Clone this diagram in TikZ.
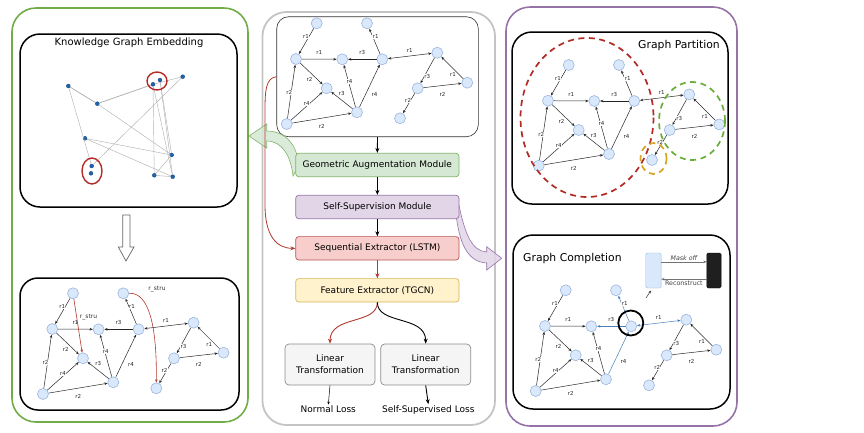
\documentclass[tikz,border=0pt]{standalone}
\usepackage{fontspec}
\setmainfont{DejaVu Sans}
\usetikzlibrary{arrows.meta}
\definecolor{kgfill}{HTML}{DAE8FC}
\definecolor{kgline}{HTML}{9AB5DE}
\definecolor{hlblue}{HTML}{4A7EBB}
\definecolor{pgreen}{HTML}{70AD47}
\definecolor{ppurple}{HTML}{9673A6}
\definecolor{pgray}{HTML}{C4C4C4}
\definecolor{gfill}{HTML}{D5E8D4}
\definecolor{gline}{HTML}{82B366}
\definecolor{ufill}{HTML}{E1D5E7}
\definecolor{uline}{HTML}{9673A6}
\definecolor{rfill}{HTML}{F8CECC}
\definecolor{rline}{HTML}{B85450}
\definecolor{yfill}{HTML}{FFF2CC}
\definecolor{yline}{HTML}{D6B656}
\definecolor{lfill}{HTML}{F5F5F5}
\definecolor{lline}{HTML}{8C8C8C}
\definecolor{dred}{HTML}{B03A2E}
\definecolor{cred}{HTML}{B22B25}
\definecolor{cgreen}{HTML}{6AAE3A}
\definecolor{corange}{HTML}{D9A421}
\definecolor{embblue}{HTML}{1F64B0}
\newcommand\kggraph[4]{%
\begin{scope}[shift={(#2,#3)},#4]
\node[kgn] (#1n1) at (30,-100.7) {};
\node[kgn] (#1n2) at (80.3,-100.7) {};
\node[kgn] (#1n3) at (9.3,-65) {};
\node[kgn] (#1n4) at (55.6,-64.7) {};
\node[kgn] (#1n5) at (95.6,-64.7) {};
\node[kgn] (#1n6) at (150.6,-71.3) {};
\node[kgn] (#1n7) at (40,-35.7) {};
\node[kgn] (#1n8) at (131,-35.7) {};
\node[kgn] (#1n9) at (180.6,-41.3) {};
\node[kgn] (#1n10) at (0,0) {};
\node[kgn] (#1n11) at (70.3,-11.7) {};
\node[kgn] (#1n12) at (113.3,-5.7) {};
\draw[kge] (#1n1) -- node[kgl,pos=.33,xshift=-3]{r1} (#1n3);
\draw[kge] (#1n3) -- node[kgl,yshift=6.5]{r1} (#1n4);
\draw[kgh] (#1n5) -- node[kgl,yshift=6.5]{r3} (#1n4);
\draw[kgh] (#1n5) -- node[kgl,pos=.675,xshift=3]{r1} (#1n2);
\draw[kghd] (#1n5) -- node[kgl,yshift=5.3]{r1} (#1n6);
\draw[kge] (#1n3) -- node[kgl,pos=.775,xshift=-8]{r2} (#1n7);
\draw[kge] (#1n10) -- node[kgl,pos=.48,xshift=-2]{r2} (#1n3);
\draw[kge] (#1n10) -- node[kgl,pos=.58,xshift=-2.5]{r4} (#1n7);
\draw[kge] (#1n10) -- node[kgl,yshift=-8.6]{r2} (#1n11);
\draw[kge] (#1n11) -- node[kgl,yshift=7]{r3} (#1n7);
\draw[kge] (#1n11) -- node[kgl,pos=.6,xshift=1]{r4} (#1n4);
\draw[kgh] (#1n11) -- node[kgl,pos=.3,xshift=9]{r4} (#1n5);
\draw[kge] (#1n6) -- node[kgl,pos=.74,xshift=3]{r3} (#1n8);
\draw[kge] (#1n9) -- node[kgl,pos=.467,yshift=-6]{r1} (#1n6);
\draw[kge] (#1n8) -- node[kgl,yshift=-9]{r2} (#1n9);
\draw[kge] (#1n8) -- node[kgl,pos=.35,xshift=-2.5]{r2} (#1n12);
\end{scope}}
\begin{document}
\begin{tikzpicture}[x=1pt,y=-1pt,
  kgn/.style={circle,minimum size=11pt,inner sep=0pt,fill=kgfill,draw=kgline,line width=0.6pt},
  kgbase/.style={line width=0.5pt,draw=black!85},
  kge/.style={kgbase,-{Stealth[length=3.2pt,width=2.6pt]}},
  kgh/.style={kge},
  kghd/.style={kgh,{Stealth[length=3.2pt,width=2.6pt]}-{Stealth[length=3.2pt,width=2.6pt]}},
  kgl/.style={font=\fontsize{5.5}{6}\selectfont,fill=white,inner sep=0.4pt,text=black!85},
  title/.style={font=\fontsize{10}{12}\selectfont,inner sep=0pt},
  modbox/.style={rounded corners=3pt,minimum width=163.3pt,minimum height=23.4pt,line width=0.7pt,font=\fontsize{9}{11}\selectfont,inner sep=0pt},
  ltbox/.style={rounded corners=4pt,minimum width=90pt,minimum height=41pt,line width=0.7pt,draw=lline,fill=lfill,font=\fontsize{9}{11}\selectfont,align=center,inner sep=0pt},
  flow/.style={line width=0.9pt,-{Stealth[length=5pt,width=4pt]}},
  emb/.style={circle,minimum size=4pt,inner sep=0pt,fill=embblue,draw=embblue!70!black,line width=0.3pt},
  embe/.style={draw=black!30,line width=0.45pt},
  redarr/.style={draw=dred,line width=0.6pt,-{Stealth[length=3.2pt,width=2.6pt]}},
  inbox/.style={line width=1.5pt,rounded corners=20pt}]
\useasboundingbox (0,0) rectangle (864,432);
% ---------- panels ----------
\draw[pgreen,line width=1.6pt,rounded corners=24pt] (12,8) rectangle (248,422);
\draw[inbox] (20,34) rectangle (237,207);
\draw[inbox,rounded corners=18pt] (20,278) rectangle (239,410);
\draw[pgray,line width=1.8pt,rounded corners=24pt] (262.5,12) rectangle (495,425);
\draw[ppurple,line width=1.6pt,rounded corners=24pt] (506,7) rectangle (737,426);
\draw[inbox] (512,32) rectangle (728,204);
\draw[inbox] (513,235) rectangle (730,409);
% ---------- knowledge graph embedding ----------
\node[title] (tkge) at (129,43) {Knowledge Graph Embedding};
\node[emb] (e1) at (68.3,86) {};
\node[emb] (e2) at (97.3,103.7) {};
\node[emb] (e3) at (153,84.3) {};
\node[emb] (e4) at (160,80) {};
\node[emb] (e5) at (182.7,76.7) {};
\node[emb] (e6) at (85,138.3) {};
\node[emb] (e7) at (91.7,166) {};
\node[emb] (e8) at (91,173.3) {};
\node[emb] (e9) at (171.7,155) {};
\node[emb] (e10) at (154.3,175.3) {};
\node[emb] (e11) at (172.7,176.7) {};
\begin{scope}[on background layer/.style={}]
\draw[embe,line width=0.8pt] (e1) -- (e2);
\draw[embe,line width=0.8pt] (e2) -- (e3);
\draw[embe] (e1) -- (e7);
\draw[embe] (e2) -- (e9);
\draw[embe] (e7) -- (e5);
\draw[embe] (e6) -- (e9);
\draw[embe] (e6) -- (e11);
\draw[embe] (e3) -- (e10);
\draw[embe] (e3) -- (e11);
\draw[embe] (e4) -- (e11);
\draw[embe] (e4) -- (e9);
\draw[embe] (e9) -- (e10);
\draw[embe] (e10) -- (e11);
\draw[embe] (e3) -- (e5);
\end{scope}
\draw[cred,line width=1.4pt] (157,81) ellipse (10 and 9);
\draw[cred,line width=1.4pt] (92,171) ellipse (10 and 13);
% hollow down arrow
\draw[black!60,fill=white,line width=0.7pt] (122.7,215) -- (130,215) -- (130,247) -- (134,247) -- (126,261) -- (118.3,247) -- (122.7,247) -- cycle;
% ---------- left bottom graph ----------
\kggraph{l}{43}{394}{}
\draw[redarr] (ln1) -- node[pos=.33,xshift=12,font=\fontsize{6}{7}\selectfont,text=black!80,inner sep=0.5pt]{r\_stru} (ln7);
\draw[redarr] (ln2.east) .. controls (150,292) and (157,330) .. (ln12.north);
\node[font=\fontsize{6}{7}\selectfont,text=black!80,inner sep=0pt] (lstru) at (157,289) {r\_stru};
% ---------- center panel ----------
\node[draw=black!80,line width=0.6pt,rounded corners=12pt,minimum width=201.6pt,minimum height=120pt] (gbox) at (377.5,76.7) {};
\kggraph{c}{286.7}{124}{}
% green block arrow
\draw[gline,fill=gfill,fill opacity=0.85,line width=0.6pt] (249,136) -- (266.7,124) -- (266.7,131) .. controls (286,131) and (298,146) .. (298.5,166) -- (293,176) .. controls (291,156) and (282,141) .. (266.7,141) -- (266.7,148) -- cycle;
% purple block arrow
\draw[uline,fill=ufill,fill opacity=0.85,line width=0.6pt] (458.5,203) .. controls (465,235) and (472,251) .. (486.7,252) -- (486.7,246.7) -- (501.7,258.3) -- (486.7,270) -- (486.7,263) .. controls (466,262) and (459,240) .. (456,214) -- cycle;
\node[modbox,draw=gline,fill=gfill] (m1) at (377.35,165) {Geometric Augmentation Module};
\node[modbox,draw=uline,fill=ufill] (m2) at (377.35,207) {Self-Supervision Module};
\node[modbox,draw=rline,fill=rfill] (m3) at (377.35,248.3) {Sequential Extractor (LSTM)};
\node[modbox,draw=yline,fill=yfill] (m4) at (377.35,290.3) {Feature Extractor (TGCN)};
\node[ltbox] (lt1) at (330,364.5) {Linear\\[1pt]Transformation};
\node[ltbox] (lt2) at (425.7,364.5) {Linear\\[1pt]Transformation};
\node[font=\fontsize{9}{11}\selectfont,inner sep=1pt] (nl) at (328.3,409.3) {Normal Loss};
\node[font=\fontsize{9}{11}\selectfont,inner sep=1pt] (sl) at (428.3,409.7) {Self-Supervised Loss};
\draw[flow] (gbox.south) -- (m1.north);
\draw[flow] (m1.south) -- (m2.north);
\draw[flow] (m2.south) -- (m3.north);
\draw[flow,draw=dred] (m3.south) -- (m4.north);
\draw[flow,draw=dred] (m4.south) .. controls (377.35,325) and (330,315) .. (lt1.north);
\draw[flow] (m4.south) .. controls (377.35,325) and (425.7,315) .. (lt2.north);
\draw[line width=0.5pt,-{Stealth[length=3pt,width=2.4pt]}] (lt1.south) -- (nl.north);
\draw[flow] (lt2.south) -- (sl.north);
\draw[dred,line width=0.8pt,-{Stealth[length=5pt,width=4pt]}] (gbox.west) .. controls (266,78) and (265,90) .. (265,110) -- (265,205) .. controls (265,235) and (276,248.3) .. (m3.west);
% ---------- graph partition ----------
\node[title,font=\fontsize{10.8}{12}\selectfont,anchor=east] (tgp) at (720,46) {Graph Partition};
\kggraph{p}{538.7}{165.7}{}
\draw[cred,line width=1.7pt,dash pattern=on 6pt off 4.5pt] (587,117.5) ellipse (66.5 and 79.5);
\draw[cgreen,line width=1.7pt,dash pattern=on 6pt off 4.5pt] (692,121) ellipse (33 and 39);
\draw[corange,line width=1.7pt,dash pattern=on 6pt off 4.5pt] (653.5,158.5) ellipse (13 and 15.5);
% ---------- graph completion ----------
\node[title,font=\fontsize{10.8}{12}\selectfont,anchor=west] (tgc) at (523,259) {Graph Completion};
\kggraph{q}{535.7}{391}{kgh/.style={kge,draw=hlblue}}
\node[circle,draw=black,line width=1.8pt,minimum size=25pt,inner sep=0pt] (qring) at (630.8,323) {};
\node[draw=kgline,fill=kgfill,rounded corners=1.5pt,minimum width=15.3pt,minimum height=35pt,inner sep=0pt] (mrect) at (653.4,270.5) {};
\node[draw=black,fill=black!88,rounded corners=1.5pt,minimum width=14.3pt,minimum height=35pt,inner sep=0pt] (brect) at (713.9,270.5) {};
\draw[black!55,line width=0.6pt,-{Stealth[length=3.2pt,width=2.6pt]}] ([yshift=8.7pt]mrect.east) -- node[above=0.6pt,font=\fontsize{6.3}{7}\selectfont\itshape,text=black!75,inner sep=0.5pt]{Mask off} ([yshift=8.7pt]brect.west);
\draw[black!55,line width=0.6pt,-{Stealth[length=3.2pt,width=2.6pt]}] ([yshift=-8.7pt]brect.west) -- node[below=0.8pt,font=\fontsize{6.3}{7}\selectfont,text=black!75,inner sep=0.5pt]{Reconstruct} ([yshift=-8.7pt]mrect.east);
\coordinate (ptrs) at (646,298);
\coordinate (ptre) at (651,290.5);
\draw[black!80,line width=0.5pt,-{Stealth[length=3pt,width=2.4pt]}] (ptrs) -- (ptre);
\end{tikzpicture}
\end{document}
